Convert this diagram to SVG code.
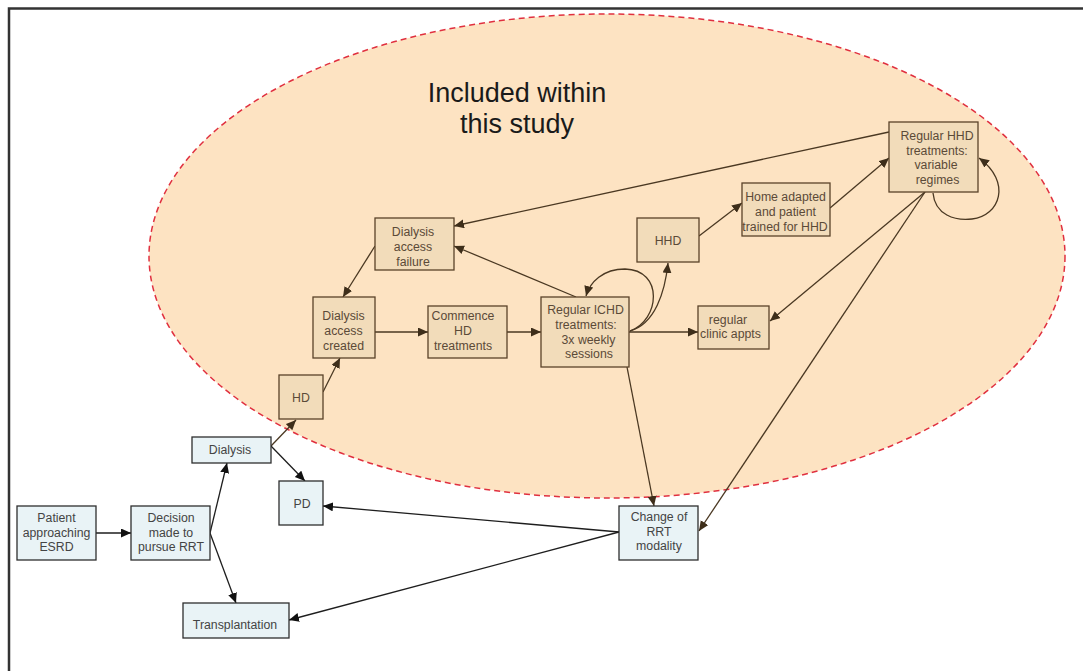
<svg xmlns="http://www.w3.org/2000/svg" width="1083" height="671" viewBox="0 0 1083 671">
  <style>
    text { font-family: "Liberation Sans", Arial, sans-serif; font-size: 12.3px; text-anchor: middle; }
    .blue rect { fill: #e9f3f6; stroke: #2e2e2e; stroke-width: 1.3; }
    .blue text { fill: #444; }
    .tan rect { fill: #f2dcba; stroke: #5a4329; stroke-width: 1.3; }
    .tan text { fill: #5b4a38; }
    .in { fill: none; stroke: #4a3822; stroke-width: 1.3; marker-end: url(#ahB); }
    .out { fill: none; stroke: #1e1e1e; stroke-width: 1.3; marker-end: url(#ahK); }
    .title { font-size: 27px; fill: #1a1a1a; }
  </style>
  <defs>
    <marker id="ahB" markerUnits="userSpaceOnUse" markerWidth="11" markerHeight="10" refX="10" refY="4.5" orient="auto">
      <path d="M0,0 L10,4.5 L0,9 z" fill="#3e2e1a"/>
    </marker>
    <marker id="ahK" markerUnits="userSpaceOnUse" markerWidth="11" markerHeight="10" refX="10" refY="4.5" orient="auto">
      <path d="M0,0 L10,4.5 L0,9 z" fill="#111"/>
    </marker>
  </defs>

  <rect width="1083" height="671" fill="#fff"/>
  <!-- page frame -->
  <path d="M9,671 V8.5 H1083" fill="none" stroke="#333" stroke-width="2.5"/>

  <!-- study scope -->
  <g id="scope">
    <ellipse cx="607" cy="256" rx="458" ry="242" fill="#fde3c2" stroke="#e0303f" stroke-width="1.5" stroke-dasharray="6 4"/>
    <text class="title" x="517" y="102">Included within</text>
    <text class="title" x="517" y="133">this study</text>
  </g>

  <g id="connectors">
    <path class="out" d="M96,533 H131"/>
    <path class="out" d="M210,533 L227,463"/>
    <path class="out" d="M210,533 L236,603"/>
    <path class="in" d="M271,446 L296,420"/>
    <path class="out" d="M271,446 L305,481"/>
    <path class="in" d="M323,392 L340,358"/>
    <path class="in" d="M375,246 L343,297"/>
    <path class="in" d="M375,332 H428"/>
    <path class="in" d="M507,332 H541"/>
    <path class="in" d="M576,297 L454,246"/>
    <path class="in" d="M889,132 L454,226"/>
    <path class="in" d="M630,331 C660,320 664,270 625,269 C603,269 590,282 586,296"/>
    <path class="in" d="M630,331 C655,324 665,292 668,263"/>
    <path class="in" d="M629,332 H698"/>
    <path class="in" d="M699,236 L742,203"/>
    <path class="in" d="M830,208 L889,158"/>
    <path class="in" d="M933,193 C935,215 955,221 972,219 C1000,216 1012,182 979,158"/>
    <path class="in" d="M925,192 L770,321"/>
    <path class="in" d="M925,192 L699,531"/>
    <path class="in" d="M627,367 L654,506"/>
    <path class="out" d="M619,532 L323,506"/>
    <path class="out" d="M619,532 L289,620"/>
  </g>

  <g id="patient" class="blue">
    <rect x="17" y="506" width="79" height="54"/>
    <text x="56.5" y="521.5">Patient</text>
    <text x="56.5" y="536.5">approaching</text>
    <text x="56.5" y="550.5">ESRD</text>
  </g>
  <g id="decision" class="blue">
    <rect x="131" y="506" width="79" height="54"/>
    <text x="171" y="521.5">Decision</text>
    <text x="171" y="536.5">made to</text>
    <text x="171" y="550.5">pursue RRT</text>
  </g>
  <g id="dialysis" class="blue">
    <rect x="192" y="437" width="79" height="26"/>
    <text x="230" y="454">Dialysis</text>
  </g>
  <g id="pd" class="blue">
    <rect x="279" y="481" width="44" height="44"/>
    <text x="302" y="507.5">PD</text>
  </g>
  <g id="transplantation" class="blue">
    <rect x="183" y="603" width="106" height="35"/>
    <text x="235" y="628.5">Transplantation</text>
  </g>
  <g id="change-modality" class="blue">
    <rect x="619" y="506" width="79" height="54"/>
    <text x="659" y="521">Change of</text>
    <text x="659" y="535.5">RRT</text>
    <text x="659" y="550">modality</text>
  </g>

  <g id="hd" class="tan">
    <rect x="279" y="375" width="44" height="44"/>
    <text x="301" y="401.5">HD</text>
  </g>
  <g id="access-created" class="tan">
    <rect x="313" y="297" width="62" height="61"/>
    <text x="343.5" y="319.5">Dialysis</text>
    <text x="343.5" y="334.5">access</text>
    <text x="343.5" y="349.5">created</text>
  </g>
  <g id="access-failure" class="tan">
    <rect x="375" y="218" width="79" height="52"/>
    <text x="413" y="235.5">Dialysis</text>
    <text x="413" y="250.5">access</text>
    <text x="413" y="265.5">failure</text>
  </g>
  <g id="commence-hd" class="tan">
    <rect x="428" y="306" width="79" height="52"/>
    <text x="463" y="319.5">Commence</text>
    <text x="463" y="334.5">HD</text>
    <text x="463" y="349.5">treatments</text>
  </g>
  <g id="ichd" class="tan">
    <rect x="541" y="297" width="88" height="70"/>
    <text x="585.5" y="313.5">Regular ICHD</text>
    <text x="586" y="328.5">treatments:</text>
    <text x="588.5" y="343.5">3x weekly</text>
    <text x="589" y="357.5">sessions</text>
  </g>
  <g id="hhd" class="tan">
    <rect x="637" y="218" width="62" height="44"/>
    <text x="668" y="244.5">HHD</text>
  </g>
  <g id="home-adapted" class="tan">
    <rect x="742" y="183" width="88" height="53"/>
    <text x="785.5" y="200.5">Home adapted</text>
    <text x="785.5" y="215.5">and patient</text>
    <text x="785" y="230.5">trained for HHD</text>
  </g>
  <g id="regular-hhd" class="tan">
    <rect x="889" y="122" width="89" height="70"/>
    <text x="937" y="139.5">Regular HHD</text>
    <text x="937" y="154.5">treatments:</text>
    <text x="936" y="168.5">variable</text>
    <text x="937.5" y="183.5">regimes</text>
  </g>
  <g id="clinic-appts" class="tan">
    <rect x="698" y="306" width="71" height="43"/>
    <text x="728" y="323.5">regular</text>
    <text x="730.5" y="337.5">clinic appts</text>
  </g>
</svg>
